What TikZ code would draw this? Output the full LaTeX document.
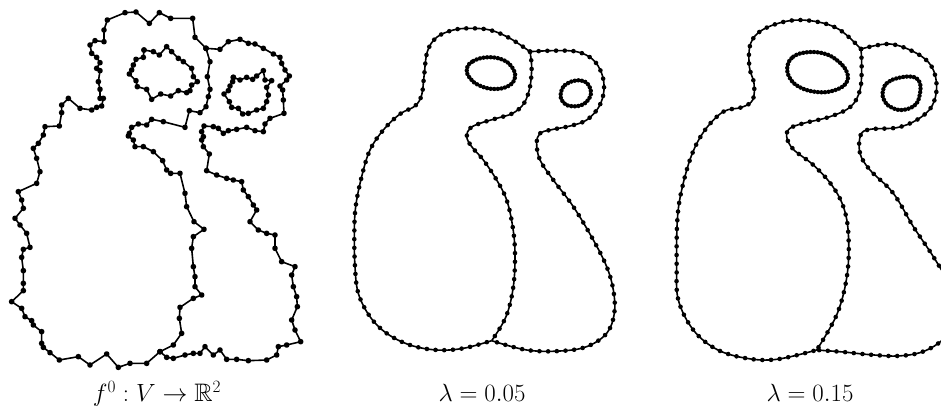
\documentclass[tikz,border=0pt]{standalone}
\usepackage{amssymb}
\tikzset{
  jag/.style={line width=1.6pt, line join=round, mark=*, mark size=2pt},
  outer/.style={line width=1.6pt, postaction={draw, line width=4.6pt, line cap=round, dash pattern=on 0pt off 8.7pt}},
  hole/.style={line width=1.6pt, postaction={draw, line width=4.4pt, line cap=round, dash pattern=on 0pt off 3.6pt}},
  lab/.style={font=\fontsize{25.3}{30}\selectfont, anchor=base, inner sep=0pt}
}
\begin{document}
\begin{tikzpicture}[x=1pt,y=-1pt]
\useasboundingbox (0,0) rectangle (941,408);
\clip (0,0) rectangle (941,408);
% ---------------- left panel: noisy input ----------------
\begin{scope}[x=0.33333pt,y=-0.33333pt]
\draw[jag] plot coordinates {(618,145) (585,112) (578,55) (512,55) (478,38) (448,70) (408,36) (375,38) (322,60) (312,90) (312,125) (285,122) (270,135) (275,160) (290,172) (300,188) (290,205) (300,212) (295,245) (300,268) (300,295) (310,295) (305,318) (290,322) (275,330) (240,325) (205,295) (185,315) (185,338) (178,378) (135,380) (130,405) (115,430) (100,445) (110,475) (120,515) (110,550) (55,575) (65,600) (70,625) (45,655) (60,675) (80,700) (90,742) (70,748) (65,772) (70,812) (70,850) (70,872) (35,905) (65,925) (75,950) (95,962) (100,975) (125,995) (125,1030) (130,1042) (150,1058) (178,1080) (235,1070) (270,1095) (320,1062) (355,1102) (390,1090) (440,1090) (480,1055)};
\draw[jag] plot coordinates {(618,145) (630,185) (622,230) (630,268) (625,290) (618,320) (600,338) (568,332) (555,382) (490,365) (455,358) (440,375) (415,372) (395,382) (388,400) (385,408) (400,420) (405,440) (430,440) (460,455) (488,482) (500,510) (512,520) (540,520) (555,580) (560,620) (582,665) (612,688) (580,710) (575,745) (580,800) (585,830) (585,860) (605,885) (580,895) (540,922) (538,955) (545,1000) (520,1035) (480,1055)};
\draw[jag] plot coordinates {(618,145) (660,148) (685,125) (720,118) (745,130) (765,132) (790,145) (820,162) (840,172) (845,190) (855,210) (868,228) (860,240) (840,258) (848,270) (850,300) (852,340) (810,355) (795,372) (790,395) (765,392) (740,382) (710,388) (685,392) (670,400) (655,385) (640,380) (612,378) (605,395) (610,410) (605,420) (610,440) (628,462) (620,512) (650,525) (680,535) (700,540) (725,545) (730,570) (745,590) (760,615) (770,630) (750,665) (775,690) (800,700) (825,705) (825,745) (845,785) (885,800) (875,825) (880,860) (890,890) (892,920) (875,960) (885,990) (902,1025) (860,1035) (835,1040) (830,1065) (800,1080) (745,1082) (710,1078) (680,1078) (660,1050) (640,1065) (615,1040) (600,1060) (580,1060) (555,1065) (520,1075) (500,1072) (480,1055)};
\draw[jag] plot coordinates {(432,150) (460,155) (478,165) (500,140) (515,155) (535,175) (550,185) (575,205) (580,230) (592,245) (575,255) (570,272) (560,278) (535,272) (512,288) (482,282) (455,298) (440,268) (412,260) (408,242) (388,222) (395,210) (400,195) (408,178) (430,172) (432,150)};
\draw[jag] plot coordinates {(700,232) (720,240) (740,232) (758,238) (770,228) (790,212) (795,240) (815,242) (800,262) (805,285) (800,305) (790,325) (770,330) (745,340) (728,342) (715,325) (695,322) (688,305) (672,282) (685,272) (690,258) (698,245) (700,232)};
\end{scope}
% ---------------- middle panel: lambda = 0.05 ----------------
\begin{scope}[shift={(320pt,0pt)},x=0.33333pt,y=-0.33333pt]
\draw[outer] plot[smooth,tension=0.6] coordinates {(630,155) (570,115) (510,90) (450,85) (400,90) (350,112) (322,155) (312,230) (305,285) (285,318) (240,342) (190,390) (150,450) (125,530) (107,620) (103,700) (105,800) (115,880) (150,950) (200,1000) (270,1035) (350,1050) (430,1045) (515,1022)};
\draw[outer] plot[smooth,tension=0.6] coordinates {(630,155) (635,200) (630,260) (612,310) (578,340) (530,355) (480,370) (450,385) (440,410) (455,440) (490,480) (530,540) (560,600) (578,680) (585,760) (580,860) (558,950) (515,1022)};
\draw[outer] plot[smooth,tension=0.6] coordinates {(630,155) (700,152) (770,155) (818,178) (845,220) (852,270) (837,320) (800,360) (750,378) (690,390) (660,400) (650,430) (660,480) (700,540) (760,620) (820,720) (860,800) (880,870) (883,940) (860,1000) (800,1040) (720,1053) (620,1050) (515,1022)};
\draw[hole] plot[smooth cycle,tension=0.7] coordinates {(440,205) (460,183) (500,172) (545,178) (575,200) (585,232) (565,258) (520,267) (475,255) (448,232)};
\draw[hole] plot[smooth cycle,tension=0.7] coordinates {(722,280) (735,255) (765,242) (795,245) (812,268) (808,295) (785,315) (750,318) (728,305)};
\end{scope}
% ---------------- right panel: lambda = 0.15 ----------------
\begin{scope}[shift={(630pt,0pt)},x=0.33333pt,y=-0.33333pt]
\draw[outer] plot[smooth,tension=0.6] coordinates {(693,147) (630,90) (560,65) (480,62) (400,88) (362,130) (358,200) (372,250) (368,300) (335,322) (280,335) (225,390) (185,465) (155,570) (142,660) (140,800) (145,900) (190,990) (260,1048) (350,1075) (440,1078) (560,1050)};
\draw[outer] plot[smooth,tension=0.6] coordinates {(693,147) (695,200) (690,270) (662,320) (600,350) (520,370) (480,385) (470,410) (490,448) (550,495) (605,555) (640,620) (655,700) (652,820) (622,940) (560,1050)};
\draw[outer] plot[smooth,tension=0.6] coordinates {(693,147) (780,132) (860,160) (905,200) (920,260) (905,320) (860,360) (800,383) (720,388) (692,405) (690,460) (720,510) (790,580) (850,680) (910,770) (955,850) (975,930) (962,990) (925,1030) (870,1058) (800,1068) (720,1064) (640,1056) (560,1050)};
\draw[hole] plot[smooth cycle,tension=0.7] coordinates {(472,200) (490,170) (530,157) (580,160) (620,180) (650,215) (648,250) (610,272) (560,276) (510,262) (480,235)};
\draw[hole] plot[smooth cycle,tension=0.7] coordinates {(758,275) (770,250) (800,235) (845,230) (868,245) (870,280) (855,315) (815,330) (780,320) (762,300)};
\end{scope}
% ---------------- labels ----------------
\node[lab] (l0) at (157,401.5) {$f^0 : V \to \mathbb{R}^2$};
\node[lab] (l1) at (482,401.5) {$\lambda = 0.05$};
\node[lab] (l2) at (810,401.5) {$\lambda = 0.15$};
\end{tikzpicture}
\end{document}
